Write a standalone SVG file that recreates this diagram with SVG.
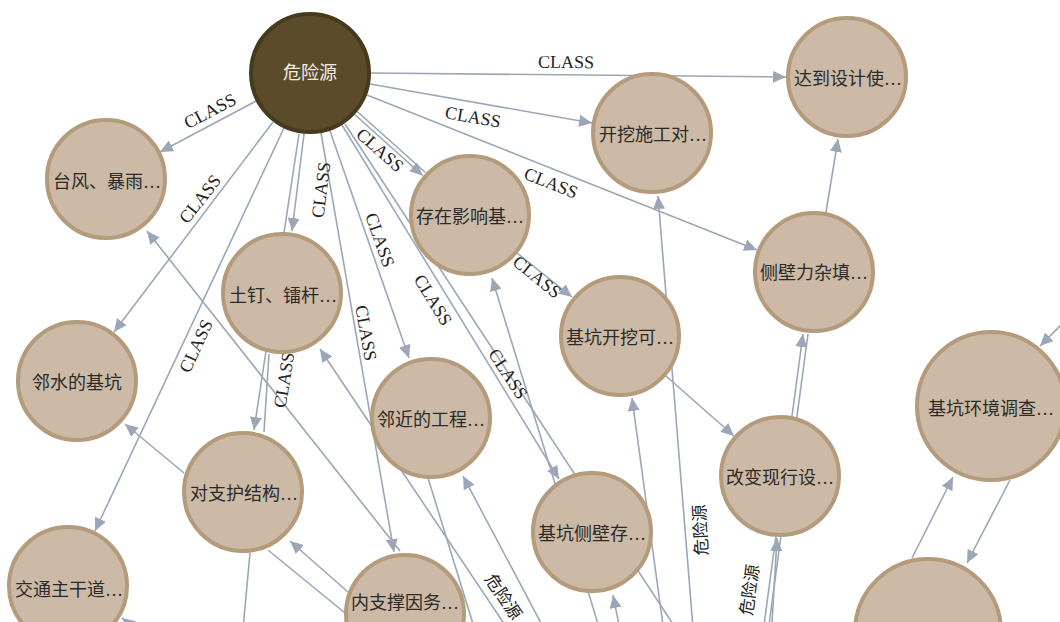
<svg xmlns="http://www.w3.org/2000/svg" width="1060" height="622" viewBox="0 0 1060 622">
<defs>
<marker id="arr" markerUnits="userSpaceOnUse" markerWidth="13" markerHeight="12" refX="13" refY="6" orient="auto"><path d="M0,0 L13,6 L0,12 z" fill="#9ba7b7"/></marker>
<style>
.e{stroke:#9ba7b7;stroke-width:1.6;fill:none}
.a{marker-end:url(#arr)}
.lb{font-family:'Liberation Serif',serif;font-size:18px;fill:#222;text-anchor:middle;dominant-baseline:central}
.lz{font-family:'Liberation Serif','Noto Sans CJK SC',serif;font-size:17px;fill:#222;text-anchor:middle;dominant-baseline:central}
.n circle{fill:#ccbaa6;stroke:#b39b7b;stroke-width:4}
.n text{font-family:'Liberation Serif','Noto Sans CJK SC',serif;font-size:18px;fill:#2a2a2a;text-anchor:middle;dominant-baseline:central}
#hub circle{fill:#5c4b2a;stroke:#463a1e}
#hub text{fill:#f2ede3}
</style>
</defs>
<rect width="1060" height="622" fill="#fff"/>
<g id="edges">
<line class="e a" x1="371" y1="73" x2="786" y2="77"/>
<line class="e a" x1="370" y1="84" x2="592" y2="123"/>
<line class="e a" x1="367" y1="95" x2="757" y2="250"/>
<line class="e a" x1="354.7" y1="114.5" x2="422.7" y2="175.5"/>
<line class="e" x1="357.3" y1="111.5" x2="425.3" y2="172.5"/>
<line class="e a" x1="256" y1="101" x2="160" y2="152"/>
<line class="e a" x1="273" y1="122" x2="114" y2="332"/>
<line class="e a" x1="284" y1="128" x2="95" y2="531"/>
<line class="e a" x1="304" y1="134" x2="292" y2="231"/>
<line class="e a" x1="299" y1="134" x2="254" y2="430"/>
<line class="e a" x1="330" y1="131" x2="409" y2="358"/>
<line class="e a" x1="321" y1="133" x2="394" y2="552"/>
<line class="e a" x1="342" y1="125" x2="559" y2="479"/>
<line class="e" x1="345" y1="124" x2="690" y2="650"/>
<line class="e a" x1="517" y1="253" x2="572" y2="297"/>
<line class="e a" x1="666" y1="376" x2="734" y2="436"/>
<line class="e a" x1="762" y1="640" x2="803" y2="334"/>
<line class="e" x1="767" y1="640" x2="808" y2="334"/>
<line class="e a" x1="771" y1="640" x2="777" y2="538"/>
<line class="e a" x1="826" y1="212" x2="838" y2="139"/>
<line class="e a" x1="694" y1="640" x2="658" y2="196"/>
<line class="e a" x1="665" y1="640" x2="632" y2="398"/>
<line class="e a" x1="606" y1="650" x2="492" y2="278"/>
<line class="e a" x1="622" y1="640" x2="613" y2="595"/>
<line class="e a" x1="550" y1="640" x2="463" y2="476"/>
<line class="e a" x1="515" y1="640" x2="320" y2="349"/>
<line class="e" x1="428" y1="478" x2="478" y2="640"/>
<line class="e a" x1="400" y1="551" x2="147" y2="231"/>
<line class="e a" x1="184" y1="473" x2="125" y2="424"/>
<line class="e" x1="269" y1="354" x2="264" y2="432"/>
<line class="e a" x1="348" y1="592" x2="290" y2="541"/>
<line class="e" x1="268" y1="550" x2="345" y2="613"/>
<line class="e" x1="250" y1="553" x2="242" y2="640"/>
<line class="e a" x1="1064" y1="322" x2="1040" y2="346"/>
<line class="e a" x1="912" y1="558" x2="953" y2="477"/>
<line class="e a" x1="1010" y1="480" x2="967" y2="563"/>
<line class="e a" x1="150" y1="640" x2="122" y2="618"/>
<text class="lb" x="566" y="62" transform="rotate(0.5 566 62)">CLASS</text>
<text class="lb" x="473" y="117" transform="rotate(10 473 117)">CLASS</text>
<text class="lb" x="551" y="183" transform="rotate(21.5 551 183)">CLASS</text>
<text class="lb" x="380" y="150" transform="rotate(41.6 380 150)">CLASS</text>
<text class="lb" x="210" y="111" transform="rotate(-27.7 210 111)">CLASS</text>
<text class="lb" x="200" y="199" transform="rotate(-52 200 199)">CLASS</text>
<text class="lb" x="196" y="346" transform="rotate(-65 196 346)">CLASS</text>
<text class="lb" x="321" y="190" transform="rotate(-83 321 190)">CLASS</text>
<text class="lb" x="380" y="240" transform="rotate(70.5 380 240)">CLASS</text>
<text class="lb" x="366" y="333" transform="rotate(80 366 333)">CLASS</text>
<text class="lb" x="433" y="300" transform="rotate(58.4 433 300)">CLASS</text>
<text class="lb" x="508" y="374" transform="rotate(56.8 508 374)">CLASS</text>
<text class="lb" x="537" y="277" transform="rotate(38.9 537 277)">CLASS</text>
<text class="lb" x="284" y="380" transform="rotate(-81 284 380)">CLASS</text>
<text class="lz" x="503" y="597" transform="rotate(56 503 597)">危险源</text>
<text class="lz" x="701" y="530" transform="rotate(-93 701 530)">危险源</text>
<text class="lz" x="750" y="590" transform="rotate(-82 750 590)">危险源</text>
</g>
<g id="hub" class="n"><circle cx="310" cy="73" r="59"/><text x="310" y="73">危险源</text></g>
<g id="n1" class="n"><circle cx="106" cy="179" r="59"/><text x="107" y="182">台风、暴雨…</text></g>
<g id="n2" class="n"><circle cx="847" cy="77" r="59"/><text x="848" y="79">达到设计使…</text></g>
<g id="n3" class="n"><circle cx="652" cy="133" r="59"/><text x="653" y="135">开挖施工对…</text></g>
<g id="n4" class="n"><circle cx="470" cy="215" r="59"/><text x="470" y="217">存在影响基…</text></g>
<g id="n5" class="n"><circle cx="814" cy="272" r="59"/><text x="814" y="273">侧壁力杂填…</text></g>
<g id="n6" class="n"><circle cx="282" cy="293" r="59"/><text x="283" y="296">土钉、镭杆…</text></g>
<g id="n7" class="n"><circle cx="77" cy="381" r="59"/><text x="77" y="383">邻水的基坑</text></g>
<g id="n8" class="n"><circle cx="620" cy="336" r="59"/><text x="620" y="338">基坑开挖可…</text></g>
<g id="n9" class="n"><circle cx="991" cy="406" r="74"/><text x="991" y="409">基坑环境调查…</text></g>
<g id="n10" class="n"><circle cx="431" cy="418" r="59"/><text x="431" y="420">邻近的工程…</text></g>
<g id="n11" class="n"><circle cx="243" cy="492" r="59"/><text x="244" y="494">对支护结构…</text></g>
<g id="n12" class="n"><circle cx="592" cy="532" r="59"/><text x="592" y="534">基坑侧壁存…</text></g>
<g id="n13" class="n"><circle cx="780" cy="476" r="59"/><text x="780" y="478">改变现行设…</text></g>
<g id="n14" class="n"><circle cx="68" cy="586" r="59"/><text x="69" y="590">交通主干道…</text></g>
<g id="n15" class="n"><circle cx="405" cy="614" r="59"/><text x="405" y="603">内支撑因务…</text></g>
<g id="n16" class="n"><circle cx="928" cy="632" r="73"/></g>
</svg>
